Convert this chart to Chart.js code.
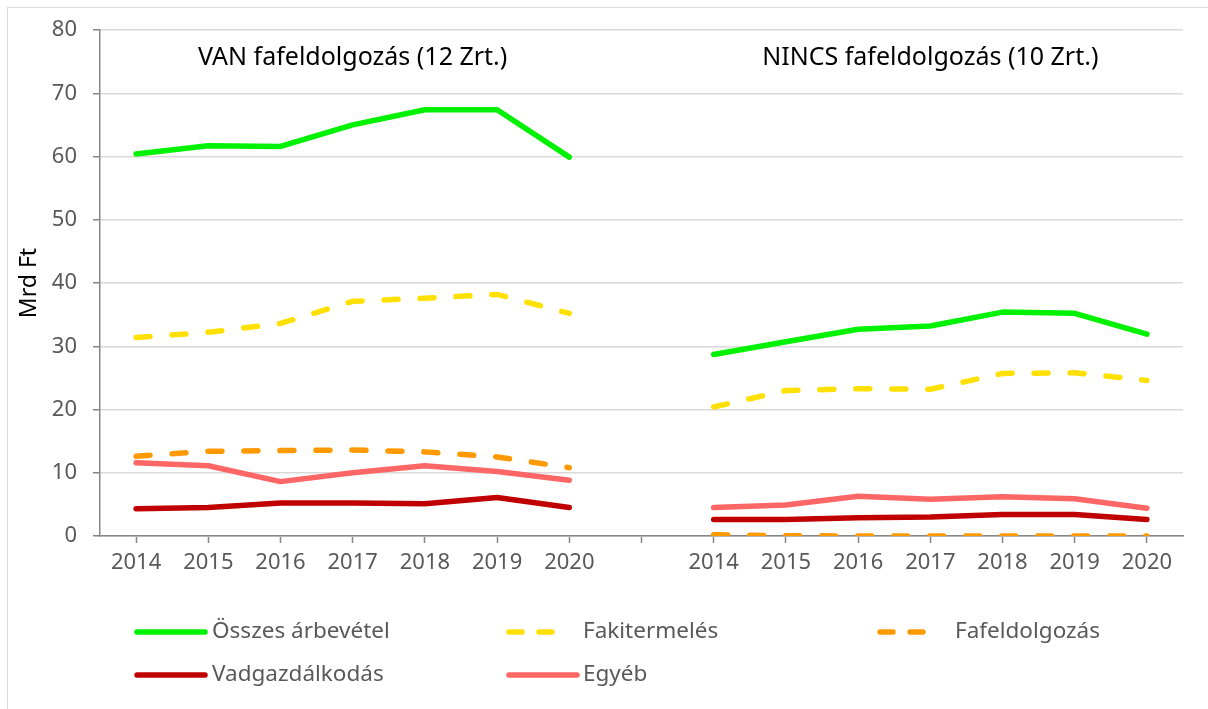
<!DOCTYPE html>
<html>
<head>
<meta charset="utf-8">
<script src="https://cdn.jsdelivr.net/npm/chart.js@4/dist/chart.umd.min.js"></script>
<style>
  html, body { margin: 0; padding: 0; background: #fff; overflow: hidden; }
  #wrap { position: relative; width: 1208px; height: 709px; }
  #frame { position: absolute; left: 7px; top: 7px; width: 1300px; height: 800px; border: 1px solid #d9d9d9; pointer-events: none; }
</style>
</head>
<body>
<div id="wrap">
  <canvas id="chart" width="1208" height="709"></canvas>
  <div id="frame"></div>
</div>
<script>
/* Árbevétel szerkezete — VAN / NINCS fafeldolgozás */

const years = ['2014', '2015', '2016', '2017', '2018', '2019', '2020'];
const labels = [...years, '', ...years];

const groupTitles = ['VAN fafeldolgozás (12 Zrt.)', 'NINCS fafeldolgozás (10 Zrt.)'];

// VAN fafeldolgozás (12 Zrt.)
const vanOsszes    = [60.4, 61.7, 61.6, 65.0, 67.4, 67.4, 59.9];
const vanFakiterm  = [31.4, 32.2, 33.6, 37.1, 37.6, 38.2, 35.2];
const vanFafeld    = [12.6, 13.4, 13.5, 13.6, 13.3, 12.5, 10.8];
const vanVad       = [4.3, 4.5, 5.2, 5.2, 5.1, 6.1, 4.5];
const vanEgyeb     = [11.6, 11.1, 8.6, 10.0, 11.1, 10.2, 8.8];

// NINCS fafeldolgozás (10 Zrt.)
const nincsOsszes   = [28.7, 30.7, 32.7, 33.2, 35.4, 35.2, 31.9];
const nincsFakiterm = [20.4, 23.0, 23.3, 23.2, 25.7, 25.8, 24.6];
const nincsFafeld   = [0.2, 0.05, 0, 0, 0, 0, 0];
const nincsVad      = [2.6, 2.6, 2.9, 3.0, 3.4, 3.4, 2.6];
const nincsEgyeb    = [4.5, 4.9, 6.3, 5.8, 6.2, 5.9, 4.4];

const FONT = "'Noto Sans', 'Open Sans', sans-serif";
const GREY = '#595959';
const DASH = [14, 22];

const join = (a, b) => [...a, null, ...b];

const series = [
  { label: 'Összes árbevétel', data: join(vanOsszes, nincsOsszes),     color: '#00F200', dash: [] },
  { label: 'Fakitermelés',     data: join(vanFakiterm, nincsFakiterm), color: '#FFE000', dash: DASH },
  { label: 'Fafeldolgozás',    data: join(vanFafeld, nincsFafeld),     color: '#FF9900', dash: DASH },
  { label: 'Vadgazdálkodás',   data: join(vanVad, nincsVad),           color: '#C00000', dash: [] },
  { label: 'Egyéb',            data: join(vanEgyeb, nincsEgyeb),       color: '#FF6666', dash: [] }
];

// group titles inside the plot area
const groupTitlePlugin = {
  id: 'groupTitles',
  afterDatasetsDraw(chart) {
    const { ctx, scales: { x, y } } = chart;
    ctx.save();
    ctx.font = '25px ' + FONT;
    ctx.fillStyle = '#000';
    ctx.textAlign = 'center';
    ctx.textBaseline = 'middle';
    ctx.fillText(groupTitles[0], x.getPixelForValue(3), y.getPixelForValue(75.6));
    ctx.fillText(groupTitles[1], x.getPixelForValue(11), y.getPixelForValue(75.6));
    ctx.restore();
  }
};

// legend in a fixed 3-column grid, like the original
const gridLegendPlugin = {
  id: 'gridLegend',
  afterDraw(chart) {
    const { ctx } = chart;
    const cols = [135, 507, 878];
    const textX = [212, 583, 955];
    const rows = [632, 675];
    ctx.save();
    ctx.font = '22.5px ' + FONT;
    ctx.textBaseline = 'middle';
    chart.data.datasets.forEach((ds, i) => {
      const c = i % 3, r = Math.floor(i / 3);
      const y = rows[r];
      const dashed = ds.borderDash && ds.borderDash.length;
      ctx.strokeStyle = ds.borderColor;
      ctx.lineWidth = ds.borderWidth;
      ctx.lineCap = 'round';
      ctx.setLineDash(dashed ? [13, 17] : []);
      ctx.beginPath();
      ctx.moveTo(cols[c] + 2, y);
      ctx.lineTo(cols[c] + (dashed ? 46 : 70), y);
      ctx.stroke();
      ctx.setLineDash([]);
      ctx.fillStyle = GREY;
      ctx.fillText(ds.label, textX[c], y);
    });
    ctx.restore();
  }
};

new Chart(document.getElementById('chart'), {
  type: 'line',
  data: {
    labels,
    datasets: series.map(s => ({
      label: s.label,
      data: s.data,
      borderColor: s.color,
      backgroundColor: s.color,
      borderWidth: 5.5,
      borderDash: s.dash,
      borderCapStyle: 'round',
      borderJoinStyle: 'round',
      pointRadius: 0,
      pointHoverRadius: 0,
      tension: 0,
      spanGaps: false
    }))
  },
  options: {
    responsive: false,
    animation: false,
    layout: { padding: { top: 30, right: 25, bottom: 123, left: 0 } },
    plugins: { legend: { display: false }, tooltip: { enabled: false } },
    scales: {
      x: {
        offset: true,
        grid: { display: true, drawOnChartArea: false, offset: false, tickLength: 7, tickColor: '#868686', tickWidth: 1.5 },
        border: { color: '#868686', width: 1.5 },
        ticks: { color: GREY, font: { family: FONT, size: 22 }, autoSkip: false, maxRotation: 0, padding: 7 },
        afterFit: s => { s.height = 50; }
      },
      y: {
        min: 0,
        max: 80,
        grid: { color: '#d9d9d9', lineWidth: 1.5, tickLength: 7, tickColor: '#868686' },
        border: { color: '#868686', width: 1.5 },
        ticks: { stepSize: 10, color: GREY, font: { family: FONT, size: 22 }, padding: 16 },
        title: { display: true, text: 'Mrd Ft', color: '#000', font: { family: FONT, size: 23 }, padding: { top: 16 } },
        afterFit: s => { s.width = 100; }
      }
    }
  },
  plugins: [groupTitlePlugin, gridLegendPlugin]
});
</script>
</body>
</html>
